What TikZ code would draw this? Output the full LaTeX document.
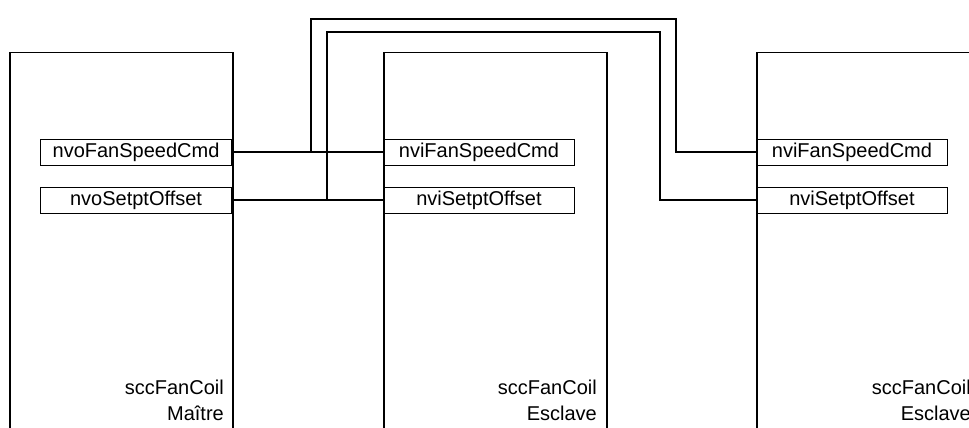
\documentclass[tikz,border=0pt]{standalone}
\usepackage{fontspec}
\setmainfont{Liberation Sans}

\begin{document}
\begin{tikzpicture}[x=1pt,y=1pt,
  unit/.style={draw,line width=1.5pt,minimum width=223pt,minimum height=420pt,anchor=north west,inner sep=0pt},
  port/.style={draw,line width=0.9pt,minimum width=191pt,minimum height=26pt,inner sep=0pt,font=\fontsize{20}{24}\selectfont},
  title/.style={align=right,anchor=south east,inner sep=0pt,font=\fontsize{20}{26}\selectfont},
  wire/.style={line width=1.6pt}]
\useasboundingbox (0,0) rectangle (969,428);
\clip (0,0) rectangle (969,428);
% fan coil units
\node[unit] (maitre) at (9,376) {};
\node[unit] (esclA) at (383,376) {};
\node[unit] (esclB) at (756,376) {};
\node[title] (tmaitre) at (224,7) {sccFanCoil\\Maître};
\node[title] (tesclA) at (597,7) {sccFanCoil\\Esclave};
\node[title] (tesclB) at (971,7) {sccFanCoil\\Esclave};
% network variables
\node[port,anchor=east] (mfan) at (232,276) {nvoFanSpeedCmd};
\node[port,anchor=east] (mset) at (232,228) {nvoSetptOffset};
\foreach \u/\x in {A/383,B/756} {
  \node[port,anchor=west] (fan\u) at (\x,276) {nviFanSpeedCmd};
  \node[port,anchor=west] (set\u) at (\x,228) {nviSetptOffset};
}
% bindings
\coordinate (tapfan) at (311,0 |- mfan.east);
\coordinate (tapset) at (327,0 |- mset.east);
\draw[wire] (mfan.east) -- (fanA.west);
\draw[wire] (mset.east) -- (setA.west);
\draw[wire] (tapfan) |- (676,409) |- (fanB.west);
\draw[wire] (tapset) |- (660,396) |- (setB.west);
\end{tikzpicture}
\end{document}
